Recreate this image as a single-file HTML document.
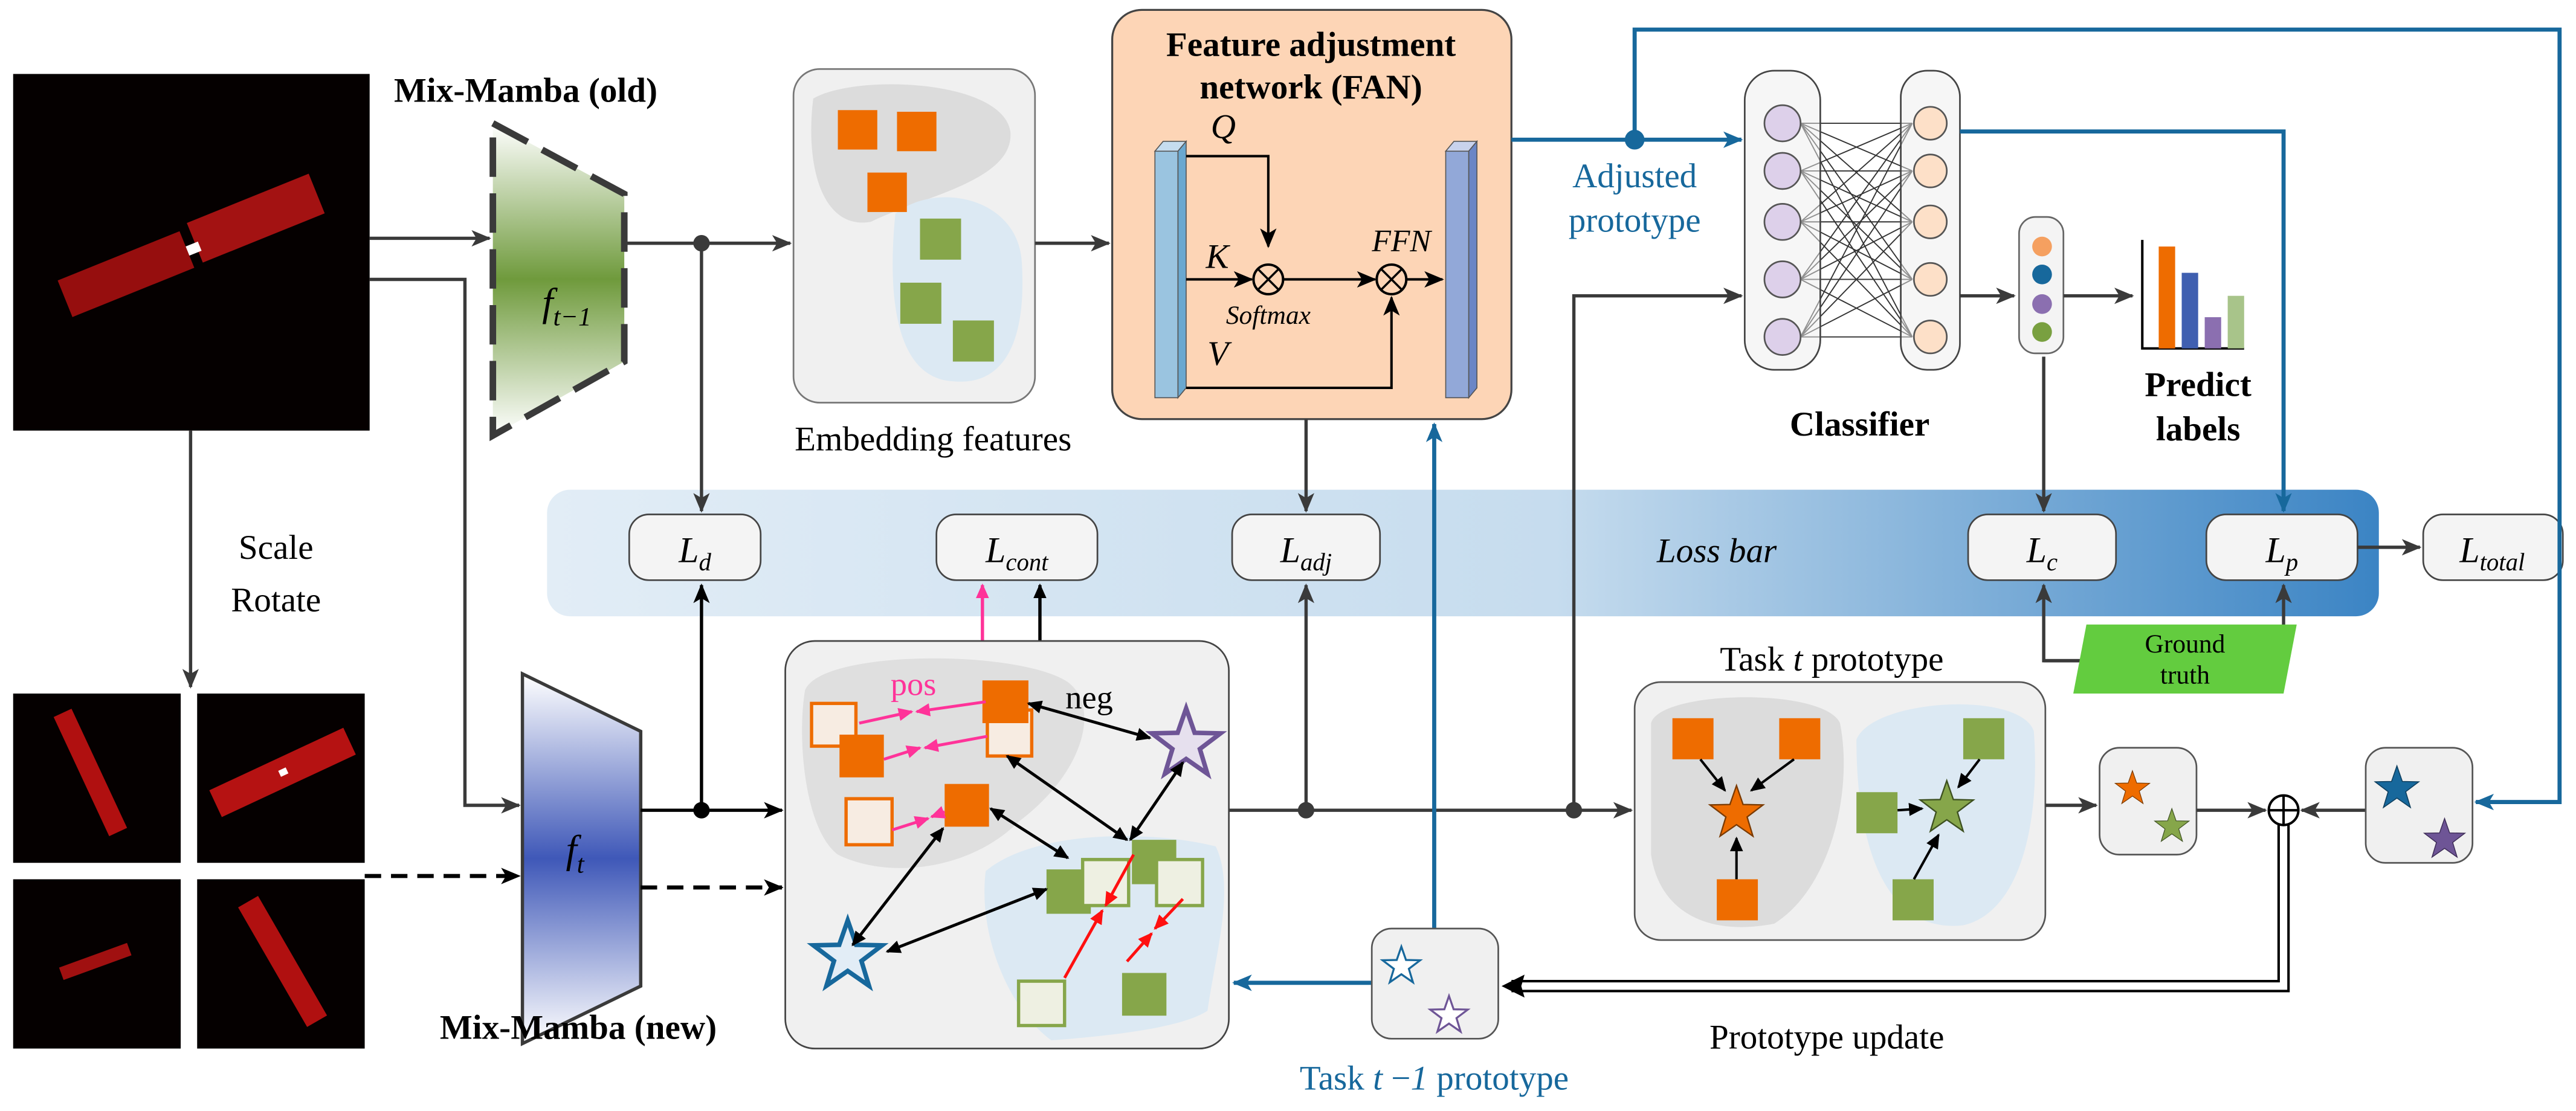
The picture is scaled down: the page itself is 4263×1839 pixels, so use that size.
<!DOCTYPE html>
<html><head><meta charset="utf-8"><style>
html,body{margin:0;padding:0;background:#fff}
svg{display:block}
text{font-family:"Liberation Serif",serif}
</style></head><body>
<svg width="4263" height="1839" viewBox="0 0 1568 676" preserveAspectRatio="none" xmlns="http://www.w3.org/2000/svg">
<defs>
<marker id="ak" markerWidth="12" markerHeight="10" refX="11" refY="5" orient="auto-start-reverse" markerUnits="userSpaceOnUse"><path d="M0,0 L12,5 L0,10 L3,5z" fill="#000"/></marker>
<marker id="ag" markerWidth="12" markerHeight="10" refX="11" refY="5" orient="auto-start-reverse" markerUnits="userSpaceOnUse"><path d="M0,0 L12,5 L0,10 L3,5z" fill="#3a3a3a"/></marker>
<marker id="ab" markerWidth="12" markerHeight="10" refX="11" refY="5" orient="auto-start-reverse" markerUnits="userSpaceOnUse"><path d="M0,0 L12,5 L0,10 L3,5z" fill="#17689c"/></marker>
<marker id="ap" markerWidth="9" markerHeight="8" refX="8" refY="4" orient="auto-start-reverse" markerUnits="userSpaceOnUse"><path d="M0,0 L9,4 L0,8z" fill="#ff3399"/></marker>
<marker id="ar" markerWidth="9" markerHeight="8" refX="8" refY="4" orient="auto-start-reverse" markerUnits="userSpaceOnUse"><path d="M0,0 L9,4 L0,8z" fill="#ff1010"/></marker>
<marker id="as" markerWidth="9" markerHeight="8" refX="8" refY="4" orient="auto-start-reverse" markerUnits="userSpaceOnUse"><path d="M0,0 L9,4 L0,8z" fill="#000"/></marker>
<linearGradient id="loss" x1="0" x2="1" y1="0" y2="0"><stop offset="0" stop-color="#e2edf6"/><stop offset="0.55" stop-color="#c6dcee"/><stop offset="1" stop-color="#3b84c4"/></linearGradient>
<linearGradient id="gold" x1="0" x2="0" y1="0" y2="1"><stop offset="0" stop-color="#fff"/><stop offset="0.5" stop-color="#6f9a3c"/><stop offset="1" stop-color="#fff"/></linearGradient>
<linearGradient id="gnew" x1="0" x2="0" y1="0" y2="1"><stop offset="0" stop-color="#fff"/><stop offset="0.5" stop-color="#3f58b8"/><stop offset="1" stop-color="#fff"/></linearGradient>
<polygon id="star" points="0,-20 4.7,-6.48 19.02,-6.18 7.6,2.48 11.76,16.18 0,8 -11.76,16.18 -7.6,2.48 -19.02,-6.18 -4.7,-6.48"/>
</defs>

<!-- loss bar (behind connectors) -->
<rect x="333" y="298" width="1115" height="77" rx="14" fill="url(#loss)"/>
<text x="1045" y="342" font-size="21" font-style="italic" text-anchor="middle">Loss bar</text>
<g fill="#f4f4f4" stroke="#444" stroke-width="1">
<rect x="383" y="313" width="80" height="40" rx="12"/>
<rect x="570" y="313" width="98" height="40" rx="12"/>
<rect x="750" y="313" width="90" height="40" rx="12"/>
<rect x="1198" y="313" width="90" height="40" rx="12"/>
<rect x="1343" y="313" width="92" height="40" rx="12"/>
<rect x="1475" y="313" width="85" height="40" rx="12"/>
</g>
<text x="423" y="342" font-size="22" font-style="italic" text-anchor="middle">L<tspan font-size="15" dy="5">d</tspan></text>
<text x="619" y="342" font-size="22" font-style="italic" text-anchor="middle">L<tspan font-size="15" dy="5">cont</tspan></text>
<text x="795" y="342" font-size="22" font-style="italic" text-anchor="middle">L<tspan font-size="15" dy="5">adj</tspan></text>
<text x="1243" y="342" font-size="22" font-style="italic" text-anchor="middle">L<tspan font-size="15" dy="5">c</tspan></text>
<text x="1389" y="342" font-size="22" font-style="italic" text-anchor="middle">L<tspan font-size="15" dy="5">p</tspan></text>
<text x="1517" y="342" font-size="22" font-style="italic" text-anchor="middle">L<tspan font-size="15" dy="5">total</tspan></text>
<line x1="1435" y1="333" x2="1473" y2="333" stroke="#3a3a3a" stroke-width="2" marker-end="url(#ag)"/>

<!-- left images -->
<rect x="8" y="45" width="217" height="217" fill="#050000"/>
<g transform="translate(116,152) rotate(-22)"><rect x="-82" y="-13" width="80" height="24" fill="#b01010" opacity="0.85"/><rect x="4" y="-16" width="80" height="26" fill="#c01515" opacity="0.85"/><rect x="-2" y="-3" width="8" height="6" fill="#fff"/></g>
<rect x="8" y="422" width="102" height="103" fill="#050000"/>
<g transform="translate(55,470) rotate(65)"><rect x="-40" y="-6" width="80" height="12" fill="#b01010"/></g>
<rect x="120" y="422" width="102" height="103" fill="#050000"/>
<g transform="translate(172,470) rotate(-25)"><rect x="-45" y="-9" width="90" height="18" fill="#b51212"/><rect x="-2" y="-2" width="5" height="4" fill="#fff"/></g>
<rect x="8" y="535" width="102" height="103" fill="#050000"/>
<g transform="translate(58,585) rotate(-20)"><rect x="-22" y="-4" width="44" height="8" fill="#a01010"/></g>
<rect x="120" y="535" width="102" height="103" fill="#050000"/>
<g transform="translate(172,585) rotate(60)"><rect x="-42" y="-7" width="84" height="14" fill="#b01010"/></g>

<line x1="116" y1="262" x2="116" y2="418" stroke="#3a3a3a" stroke-width="2" marker-end="url(#ag)"/>
<text x="168" y="340" font-size="21" text-anchor="middle">Scale</text>
<text x="168" y="372" font-size="21" text-anchor="middle">Rotate</text>

<!-- mamba old -->
<text x="320" y="62" font-size="21" font-weight="bold" text-anchor="middle">Mix-Mamba (old)</text>
<polygon points="300,75 380,118 380,220 300,265" fill="url(#gold)"/>
<polygon points="300,75 380,118 380,220 300,265" fill="none" stroke="#3a3a3a" stroke-width="4" stroke-dasharray="24,10"/>
<text x="345" y="192" font-size="24" font-style="italic" text-anchor="middle">f<tspan font-size="16" dy="6">t−1</tspan></text>
<line x1="225" y1="145" x2="298" y2="145" stroke="#3a3a3a" stroke-width="2" marker-end="url(#ag)"/>
<polyline points="225,170 283,170 283,490 316,490" fill="none" stroke="#3a3a3a" stroke-width="2" marker-end="url(#ag)"/>
<line x1="380" y1="148" x2="481" y2="148" stroke="#3a3a3a" stroke-width="2" marker-end="url(#ag)"/>
<circle cx="427" cy="148" r="5" fill="#3a3a3a"/>
<line x1="427" y1="148" x2="427" y2="311" stroke="#3a3a3a" stroke-width="2" marker-end="url(#ag)"/>

<!-- mamba new -->
<polygon points="318,410 390,445 390,600 318,635" fill="url(#gnew)" stroke="#3a3a3a" stroke-width="2"/>
<text x="350" y="525" font-size="24" font-style="italic" text-anchor="middle">f<tspan font-size="16" dy="6">t</tspan></text>
<text x="352" y="632" font-size="21" font-weight="bold" text-anchor="middle">Mix-Mamba (new)</text>
<line x1="390" y1="493" x2="476" y2="493" stroke="#000" stroke-width="2" marker-end="url(#ak)"/>
<circle cx="427" cy="493" r="5" fill="#000"/>
<line x1="427" y1="493" x2="427" y2="356" stroke="#000" stroke-width="2" marker-end="url(#ak)"/>
<line x1="222" y1="533" x2="316" y2="533" stroke="#000" stroke-width="2.5" stroke-dasharray="10,6" marker-end="url(#ak)"/>
<line x1="390" y1="540" x2="476" y2="540" stroke="#000" stroke-width="2.5" stroke-dasharray="10,6" marker-end="url(#ak)"/>

<!-- embedding -->
<rect x="483" y="42" width="147" height="203" rx="16" fill="#f0f0f0" stroke="#777" stroke-width="1"/>
<path d="M495,60 C520,45 610,48 615,80 C618,110 560,120 530,135 C500,140 490,100 495,60z" fill="#dcdcdc"/>
<path d="M545,130 C570,110 620,120 622,160 C625,210 610,235 580,232 C545,230 540,180 545,130z" fill="#dce9f3"/>
<rect x="510" y="67" width="24" height="24" fill="#ee6c00"/>
<rect x="546" y="68" width="24" height="24" fill="#ee6c00"/>
<rect x="528" y="105" width="24" height="24" fill="#ee6c00"/>
<rect x="560" y="133" width="25" height="25" fill="#86a64a"/>
<rect x="548" y="172" width="25" height="25" fill="#86a64a"/>
<rect x="580" y="195" width="25" height="25" fill="#86a64a"/>
<text x="568" y="274" font-size="21" text-anchor="middle">Embedding features</text>
<line x1="630" y1="148" x2="675" y2="148" stroke="#3a3a3a" stroke-width="2" marker-end="url(#ag)"/>

<!-- FAN -->
<rect x="677" y="6" width="243" height="249" rx="18" fill="#fdd5b6" stroke="#444" stroke-width="1.2"/>
<text x="798" y="34" font-size="21" font-weight="bold" text-anchor="middle">Feature adjustment</text>
<text x="798" y="60" font-size="21" font-weight="bold" text-anchor="middle">network (FAN)</text>
<polygon points="703,92 708,86 722,86 717,92" fill="#c5dcef" stroke="#555" stroke-width="0.6"/>
<polygon points="717,92 722,86 722,236 717,242" fill="#6aa8d0" stroke="#555" stroke-width="0.6"/>
<rect x="703" y="92" width="14" height="150" fill="#9ac4e0" stroke="#555" stroke-width="0.6"/>
<polygon points="880,92 885,86 899,86 894,92" fill="#c8d2ec" stroke="#555" stroke-width="0.6"/>
<polygon points="894,92 899,86 899,236 894,242" fill="#6a86c6" stroke="#555" stroke-width="0.6"/>
<rect x="880" y="92" width="14" height="150" fill="#92a8d8" stroke="#555" stroke-width="0.6"/>
<text x="737" y="84" font-size="21" font-style="italic">Q</text>
<polyline points="722,95 772,95 772,150" fill="none" stroke="#000" stroke-width="1.5" marker-end="url(#ak)"/>
<text x="734" y="163" font-size="21" font-style="italic">K</text>
<line x1="722" y1="170" x2="762" y2="170" stroke="#000" stroke-width="1.5" marker-end="url(#ak)"/>
<circle cx="772" cy="170" r="9" fill="none" stroke="#000" stroke-width="1.5"/>
<path d="M766,164 L778,176 M778,164 L766,176" stroke="#000" stroke-width="1.3"/>
<text x="772" y="197" font-size="16" font-style="italic" text-anchor="middle">Softmax</text>
<line x1="781" y1="170" x2="837" y2="170" stroke="#000" stroke-width="1.5" marker-end="url(#ak)"/>
<circle cx="847" cy="170" r="9" fill="none" stroke="#000" stroke-width="1.5"/>
<path d="M841,164 L853,176 M853,164 L841,176" stroke="#000" stroke-width="1.3"/>
<text x="853" y="153" font-size="19" font-style="italic" text-anchor="middle">FFN</text>
<line x1="856" y1="170" x2="878" y2="170" stroke="#000" stroke-width="1.5" marker-end="url(#ak)"/>
<text x="735" y="222" font-size="21" font-style="italic">V</text>
<polyline points="722,236 847,236 847,181" fill="none" stroke="#000" stroke-width="1.5" marker-end="url(#ak)"/>

<!-- adjusted prototype blue lines -->
<line x1="920" y1="85" x2="1060" y2="85" stroke="#17689c" stroke-width="2.5" marker-end="url(#ab)"/>
<circle cx="995" cy="85" r="6" fill="#17689c"/>
<polyline points="995,85 995,18 1558,18 1558,488 1507,488" fill="none" stroke="#17689c" stroke-width="2.5" marker-end="url(#ab)"/>
<text x="995" y="114" font-size="21" fill="#17689c" text-anchor="middle">Adjusted</text>
<text x="995" y="141" font-size="21" fill="#17689c" text-anchor="middle">prototype</text>
<line x1="795" y1="255" x2="795" y2="311" stroke="#3a3a3a" stroke-width="2" marker-end="url(#ag)"/>

<!-- classifier -->
<g stroke="#333" stroke-width="0.7">
<line x1="1096" y1="75" x2="1164" y2="75"/><line x1="1096" y1="75" x2="1164" y2="104"/><line x1="1096" y1="75" x2="1164" y2="135"/><line x1="1096" y1="75" x2="1164" y2="170"/><line x1="1096" y1="75" x2="1164" y2="205"/>
<line x1="1096" y1="104" x2="1164" y2="75"/><line x1="1096" y1="104" x2="1164" y2="104"/><line x1="1096" y1="104" x2="1164" y2="135"/><line x1="1096" y1="104" x2="1164" y2="170"/><line x1="1096" y1="104" x2="1164" y2="205"/>
<line x1="1096" y1="135" x2="1164" y2="75"/><line x1="1096" y1="135" x2="1164" y2="104"/><line x1="1096" y1="135" x2="1164" y2="135"/><line x1="1096" y1="135" x2="1164" y2="170"/><line x1="1096" y1="135" x2="1164" y2="205"/>
<line x1="1096" y1="170" x2="1164" y2="75"/><line x1="1096" y1="170" x2="1164" y2="104"/><line x1="1096" y1="170" x2="1164" y2="135"/><line x1="1096" y1="170" x2="1164" y2="170"/><line x1="1096" y1="170" x2="1164" y2="205"/>
<line x1="1096" y1="205" x2="1164" y2="75"/><line x1="1096" y1="205" x2="1164" y2="104"/><line x1="1096" y1="205" x2="1164" y2="135"/><line x1="1096" y1="205" x2="1164" y2="170"/><line x1="1096" y1="205" x2="1164" y2="205"/>
</g>
<rect x="1062" y="43" width="46" height="182" rx="18" fill="#eeeeee" fill-opacity="0.5" stroke="#444" stroke-width="1"/>
<rect x="1157" y="43" width="36" height="182" rx="16" fill="#eeeeee" fill-opacity="0.5" stroke="#444" stroke-width="1"/>
<g fill="#ddd0ea" stroke="#555" stroke-width="1"><circle cx="1085" cy="75" r="11"/><circle cx="1085" cy="104" r="11"/><circle cx="1085" cy="135" r="11"/><circle cx="1085" cy="170" r="11"/><circle cx="1085" cy="205" r="11"/></g>
<g fill="#fde0c8" stroke="#555" stroke-width="1"><circle cx="1175" cy="75" r="10"/><circle cx="1175" cy="104" r="10"/><circle cx="1175" cy="135" r="10"/><circle cx="1175" cy="170" r="10"/><circle cx="1175" cy="205" r="10"/></g>
<text x="1132" y="265" font-size="21" font-weight="bold" text-anchor="middle">Classifier</text>
<polyline points="1193,80 1390,80 1390,311" fill="none" stroke="#17689c" stroke-width="2.5" marker-end="url(#ab)"/>
<line x1="1193" y1="180" x2="1226" y2="180" stroke="#3a3a3a" stroke-width="2" marker-end="url(#ag)"/>
<rect x="1229" y="132" width="27" height="83" rx="10" fill="#f4f4f4" stroke="#666" stroke-width="1"/>
<circle cx="1243" cy="150" r="6" fill="#f5a060"/><circle cx="1243" cy="167" r="6" fill="#17689c"/><circle cx="1243" cy="185" r="6" fill="#8b6fb0"/><circle cx="1243" cy="202" r="6" fill="#79a040"/>
<line x1="1256" y1="180" x2="1298" y2="180" stroke="#3a3a3a" stroke-width="2" marker-end="url(#ag)"/>
<polyline points="1304,146 1304,212 1366,212" fill="none" stroke="#000" stroke-width="1.5"/>
<rect x="1314" y="150" width="10" height="62" fill="#ee6c00"/>
<rect x="1328" y="166" width="10" height="46" fill="#3f5fb0"/>
<rect x="1342" y="193" width="10" height="19" fill="#8b6fb0"/>
<rect x="1356" y="180" width="10" height="32" fill="#a8c48a"/>
<text x="1338" y="241" font-size="21" font-weight="bold" text-anchor="middle">Predict</text>
<text x="1338" y="268" font-size="21" font-weight="bold" text-anchor="middle">labels</text>
<line x1="1244" y1="217" x2="1244" y2="311" stroke="#3a3a3a" stroke-width="2" marker-end="url(#ag)"/>

<!-- ground truth -->
<polyline points="1270,402 1244,402 1244,356" fill="none" stroke="#3a3a3a" stroke-width="2" marker-end="url(#ag)"/>
<polyline points="1390,402 1390,356" fill="none" stroke="#3a3a3a" stroke-width="2" marker-end="url(#ag)"/>
<line x1="1244" y1="402" x2="1390" y2="402" stroke="#3a3a3a" stroke-width="2"/>
<polygon points="1270,380 1398,380 1390,422 1262,422" fill="#63cc3f"/>
<text x="1330" y="397" font-size="16" text-anchor="middle">Ground</text>
<text x="1330" y="416" font-size="16" text-anchor="middle">truth</text>

<!-- contrastive box -->
<line x1="598" y1="390" x2="598" y2="356" stroke="#ff3399" stroke-width="2" marker-end="url(#ap)"/>
<line x1="633" y1="390" x2="633" y2="356" stroke="#000" stroke-width="2" marker-end="url(#as)"/>
<rect x="478" y="390" width="270" height="248" rx="18" fill="#f0f0f0" stroke="#444" stroke-width="1"/>
<path d="M490,420 C500,395 620,395 650,415 C670,430 660,470 620,500 C590,530 540,535 510,520 C490,505 485,450 490,420z" fill="#dfdfdf"/>
<path d="M600,530 C630,505 700,505 740,515 C752,540 740,580 735,615 C720,625 680,630 640,633 C615,615 595,570 600,530z" fill="#dce9f3"/>
<g stroke="#ee6c00" stroke-width="2" fill="#f7ece2">
<rect x="494" y="428" width="27" height="26"/>
<rect x="601" y="432" width="27" height="28"/>
<rect x="515" y="486" width="28" height="28"/>
</g>
<g fill="#ee6c00"><rect x="511" y="447" width="27" height="26"/><rect x="598" y="414" width="28" height="26"/><rect x="575" y="477" width="27" height="26"/></g>
<g fill="#86a64a"><rect x="689" y="511" width="27" height="27"/><rect x="637" y="529" width="27" height="27"/><rect x="683" y="592" width="27" height="26"/></g>
<g stroke="#86a64a" stroke-width="2" fill="#eef0e2">
<rect x="704" y="523" width="28" height="28"/><rect x="659" y="523" width="28" height="28"/><rect x="620" y="597" width="28" height="27"/>
</g>
<use href="#star" transform="translate(722,453) scale(1.1)" fill="#e6e0ee" stroke="#6e5596" stroke-width="2.5" vector-effect="non-scaling-stroke"/>
<use href="#star" transform="translate(516,582) scale(1.1)" fill="#e2edf6" stroke="#17689c" stroke-width="2.5" vector-effect="non-scaling-stroke"/>
<g stroke="#ff3399" stroke-width="1.8">
<line x1="523" y1="440" x2="555" y2="433" marker-end="url(#ap)"/><line x1="600" y1="427" x2="558" y2="433" marker-end="url(#ap)"/>
<line x1="538" y1="462" x2="560" y2="455" marker-end="url(#ap)"/><line x1="601" y1="448" x2="563" y2="455" marker-end="url(#ap)"/>
<line x1="543" y1="505" x2="565" y2="498" marker-end="url(#ap)"/><line x1="575" y1="494" x2="567" y2="497" marker-end="url(#ap)"/>
</g>
<text x="556" y="423" font-size="20" fill="#ff3399" text-anchor="middle">pos</text>
<text x="663" y="431" font-size="20" text-anchor="middle">neg</text>
<g stroke="#000" stroke-width="1.8">
<line x1="626" y1="428" x2="700" y2="449" marker-start="url(#as)" marker-end="url(#as)"/>
<line x1="613" y1="460" x2="686" y2="511" marker-start="url(#as)" marker-end="url(#as)"/>
<line x1="720" y1="464" x2="688" y2="511" marker-start="url(#as)" marker-end="url(#as)"/>
<line x1="603" y1="492" x2="650" y2="522" marker-start="url(#as)" marker-end="url(#as)"/>
<line x1="574" y1="504" x2="519" y2="575" marker-start="url(#as)" marker-end="url(#as)"/>
<line x1="637" y1="541" x2="540" y2="579" marker-start="url(#as)" marker-end="url(#as)"/>
</g>
<g stroke="#ff1010" stroke-width="1.8">
<line x1="690" y1="520" x2="673" y2="551" marker-end="url(#ar)"/><line x1="648" y1="595" x2="671" y2="554" marker-end="url(#ar)"/>
<line x1="720" y1="547" x2="703" y2="565" marker-end="url(#ar)"/><line x1="686" y1="585" x2="701" y2="568" marker-end="url(#ar)"/>
</g>

<!-- middle flow line -->
<line x1="748" y1="493" x2="993" y2="493" stroke="#3a3a3a" stroke-width="2" marker-end="url(#ag)"/>
<circle cx="795" cy="493" r="5" fill="#3a3a3a"/>
<line x1="795" y1="493" x2="795" y2="356" stroke="#3a3a3a" stroke-width="2" marker-end="url(#ag)"/>
<circle cx="958" cy="493" r="5" fill="#3a3a3a"/>
<polyline points="958,493 958,180 1060,180" fill="none" stroke="#3a3a3a" stroke-width="2" marker-end="url(#ag)"/>

<!-- task t-1 -->
<line x1="873" y1="565" x2="873" y2="258" stroke="#17689c" stroke-width="2.5" marker-end="url(#ab)"/>
<line x1="835" y1="598" x2="751" y2="598" stroke="#17689c" stroke-width="2.5" marker-end="url(#ab)"/>
<rect x="835" y="565" width="77" height="67" rx="12" fill="#f0f0f0" stroke="#555" stroke-width="1"/>
<use href="#star" transform="translate(853,588) scale(0.6)" fill="#fff" stroke="#17689c" stroke-width="2" vector-effect="non-scaling-stroke"/>
<use href="#star" transform="translate(882,618) scale(0.6)" fill="#fff" stroke="#6e5596" stroke-width="2" vector-effect="non-scaling-stroke"/>
<text x="873" y="663" font-size="21" fill="#17689c" text-anchor="middle">Task <tspan font-style="italic">t</tspan> −<tspan font-style="italic">1</tspan> prototype</text>

<!-- task t -->
<text x="1115" y="408" font-size="21" text-anchor="middle">Task <tspan font-style="italic">t</tspan> prototype</text>
<rect x="995" y="415" width="250" height="157" rx="16" fill="#f0f0f0" stroke="#555" stroke-width="1"/>
<path d="M1005,440 C1010,420 1110,418 1120,440 C1128,480 1115,540 1080,562 C1040,570 1010,555 1005,520z" fill="#dcdcdc"/>
<path d="M1130,450 C1140,425 1230,420 1238,445 C1242,500 1230,555 1195,563 C1150,568 1130,520 1130,450z" fill="#dce9f3"/>
<rect x="1018" y="437" width="25" height="25" fill="#ee6c00"/>
<rect x="1083" y="437" width="25" height="25" fill="#ee6c00"/>
<rect x="1045" y="535" width="25" height="25" fill="#ee6c00"/>
<rect x="1195" y="437" width="25" height="25" fill="#86a64a"/>
<rect x="1130" y="482" width="25" height="25" fill="#86a64a"/>
<rect x="1152" y="535" width="25" height="25" fill="#86a64a"/>
<g stroke="#000" stroke-width="1.5">
<line x1="1035" y1="462" x2="1050" y2="481" marker-end="url(#as)"/>
<line x1="1092" y1="462" x2="1066" y2="481" marker-end="url(#as)"/>
<line x1="1057" y1="535" x2="1057" y2="510" marker-end="url(#as)"/>
<line x1="1205" y1="462" x2="1192" y2="479" marker-end="url(#as)"/>
<line x1="1155" y1="493" x2="1170" y2="492" marker-end="url(#as)"/>
<line x1="1165" y1="535" x2="1180" y2="508" marker-end="url(#as)"/>
</g>
<use href="#star" transform="translate(1057,495) scale(0.85)" fill="#ee6c00" stroke="#7a3a00" stroke-width="1" vector-effect="non-scaling-stroke"/>
<use href="#star" transform="translate(1185,492) scale(0.85)" fill="#86a64a" stroke="#3d5020" stroke-width="1" vector-effect="non-scaling-stroke"/>
<line x1="1245" y1="490" x2="1276" y2="490" stroke="#3a3a3a" stroke-width="2" marker-end="url(#ag)"/>

<rect x="1278" y="455" width="59" height="65" rx="12" fill="#f0f0f0" stroke="#555" stroke-width="1"/>
<use href="#star" transform="translate(1298,480) scale(0.55)" fill="#ee6c00" stroke="#7a3a00" stroke-width="0.8" vector-effect="non-scaling-stroke"/>
<use href="#star" transform="translate(1322,503) scale(0.55)" fill="#86a64a" stroke="#3d5020" stroke-width="0.8" vector-effect="non-scaling-stroke"/>
<line x1="1337" y1="493" x2="1379" y2="493" stroke="#3a3a3a" stroke-width="2" marker-end="url(#ag)"/>
<circle cx="1390" cy="493" r="9" fill="#fff" stroke="#000" stroke-width="1.5"/>
<path d="M1381,493 H1399 M1390,484 V502" stroke="#000" stroke-width="1.5"/>
<line x1="1440" y1="493" x2="1401" y2="493" stroke="#3a3a3a" stroke-width="2" marker-end="url(#ag)"/>
<rect x="1440" y="455" width="65" height="70" rx="12" fill="#f0f0f0" stroke="#555" stroke-width="1"/>
<use href="#star" transform="translate(1459,480) scale(0.7)" fill="#17689c" stroke="#0d3d5c" stroke-width="0.8" vector-effect="non-scaling-stroke"/>
<use href="#star" transform="translate(1488,511) scale(0.65)" fill="#6e5596" stroke="#3b2a55" stroke-width="0.8" vector-effect="non-scaling-stroke"/>

<!-- prototype update double line -->
<polyline points="1387,502 1387,597 920,597" fill="none" stroke="#000" stroke-width="1.5"/>
<polyline points="1393,502 1393,603 920,603" fill="none" stroke="#000" stroke-width="1.5"/>
<path d="M914,600 L928,593 L926,600 L928,607z" fill="#000"/>
<text x="1112" y="638" font-size="21" text-anchor="middle">Prototype update</text>
</svg>
</body></html>
